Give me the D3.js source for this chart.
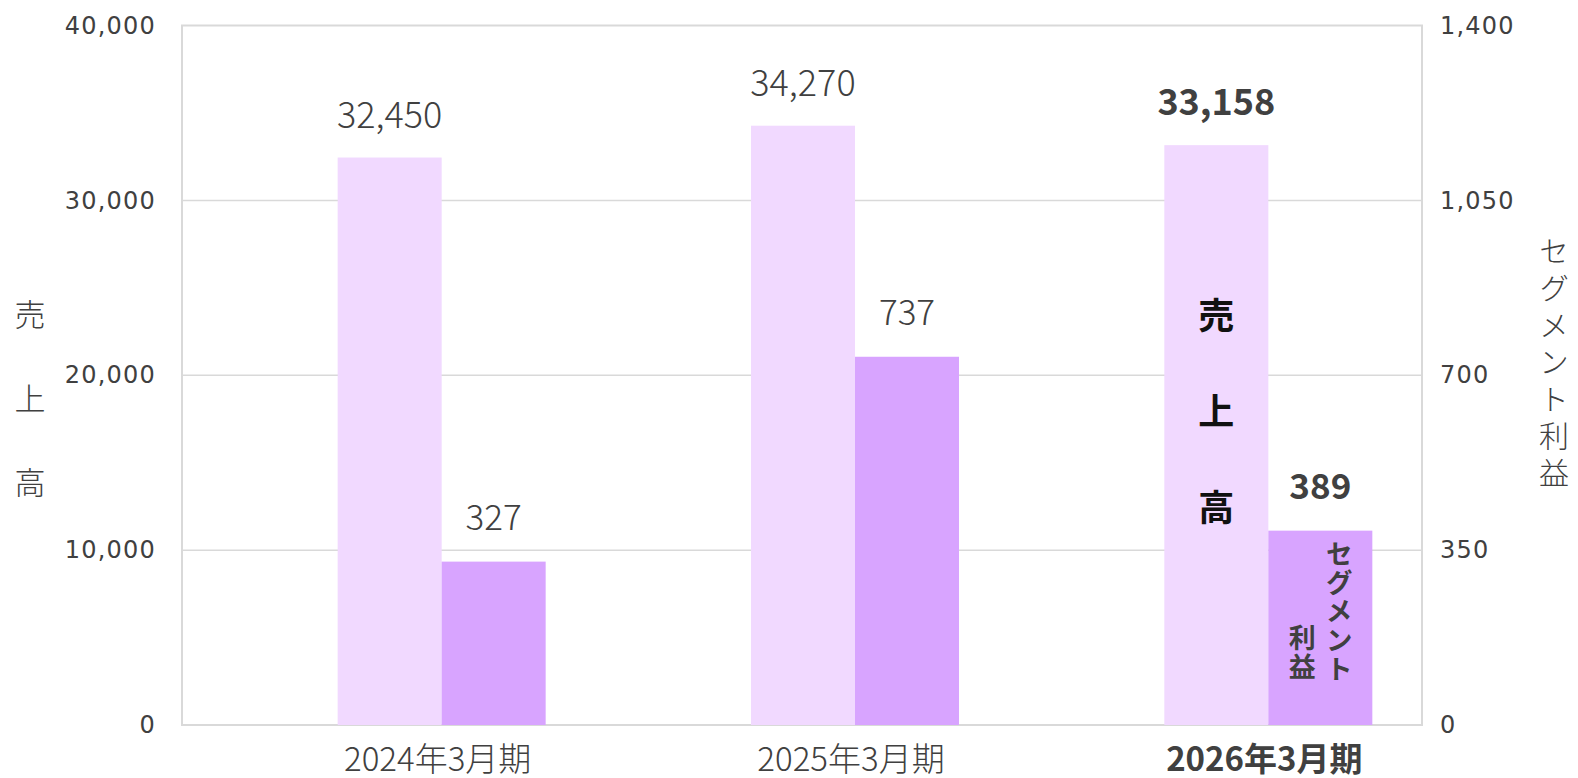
<!DOCTYPE html>
<html>
<head>
<meta charset="utf-8">
<script src="https://cdn.jsdelivr.net/npm/d3@7"></script>
<style>
  body { margin: 0; background: #fff; }
  text { font-family: "Noto Sans CJK JP", "Noto Sans", sans-serif; }
</style>
</head>
<body>
<div id="chart"></div>
<script>
// データ
const categories = ['2024年3月期', '2025年3月期', '2026年3月期'];
const sales = [32450, 34270, 33158];
const profit = [327, 737, 389];
const leftTicks = [0, 10000, 20000, 30000, 40000];
const rightTicks = [0, 350, 700, 1050, 1400];

const width = 1578, height = 778;
const plotL = 182, plotR = 1422, plotT = 25.5, plotB = 725;
const colorSales = '#f1d9ff', colorProfit = '#d8a4ff';
const textColor = '#404040';
const lastIdx = categories.length - 1;

let svg = d3.select('#chart')
  .append('svg')
  .attr('width', width)
  .attr('height', height);

// スケール
const xScale = d3.scaleBand().domain(categories).range([235, 1475]);
const xSub = d3.scaleBand().domain(['sales', 'profit']).range([-104, 104]);
const yLeft = d3.scaleLinear().domain([0, 40000]).range([plotB, plotT]);
const yRight = d3.scaleLinear().domain([0, 1400]).range([plotB, plotT]);
const center = c => xScale(c) + xScale.bandwidth() / 2;

// グリッド
svg.append('g')
  .selectAll('line')
  .data(leftTicks.slice(1, -1))
  .enter()
  .append('line')
  .attr('x1', plotL).attr('x2', plotR)
  .attr('y1', d => yLeft(d)).attr('y2', d => yLeft(d))
  .attr('stroke', '#d9d9d9')
  .attr('stroke-width', 1.5);

// 枠
svg.append('rect')
  .attr('x', plotL).attr('y', plotT)
  .attr('width', plotR - plotL).attr('height', plotB - plotT)
  .attr('fill', 'none')
  .attr('stroke', '#d9d9d9')
  .attr('stroke-width', 2);

// 左軸
const yAxisL = d3.axisLeft(yLeft).tickValues(leftTicks).tickSize(0).tickPadding(26)
  .tickFormat(d3.format(','));
svg.append('g').attr('class', 'y-axis-l')
  .attr('transform', `translate(${plotL},0)`)
  .call(yAxisL)
  .call(g => g.select('.domain').remove())
  .selectAll('text')
  .style('font-family', '"DejaVu Sans", sans-serif')
  .style('font-size', '24px')
  .style('letter-spacing', '1.2px')
  .attr('fill', textColor);

// 右軸
const yAxisR = d3.axisRight(yRight).tickValues(rightTicks).tickSize(0).tickPadding(18)
  .tickFormat(d3.format(','));
svg.append('g').attr('class', 'y-axis-r')
  .attr('transform', `translate(${plotR},0)`)
  .call(yAxisR)
  .call(g => g.select('.domain').remove())
  .selectAll('text')
  .style('font-family', '"DejaVu Sans", sans-serif')
  .style('font-size', '24px')
  .style('letter-spacing', '1.2px')
  .attr('fill', textColor);

// x軸ラベル
svg.append('g')
  .selectAll('text')
  .data(categories)
  .enter()
  .append('text')
  .attr('x', d => center(d) - 4)
  .attr('y', 771)
  .attr('text-anchor', 'middle')
  .style('font-size', '33px')
  .style('font-weight', (d, i) => i === lastIdx ? 700 : 300)
  .attr('fill', textColor)
  .text(d => d);

// 棒：売上高
svg.append('g')
  .selectAll('rect')
  .data(categories)
  .enter()
  .append('rect')
  .attr('x', d => center(d) + xSub('sales'))
  .attr('y', (d, i) => yLeft(sales[i]))
  .attr('width', xSub.bandwidth())
  .attr('height', (d, i) => plotB - yLeft(sales[i]))
  .attr('fill', colorSales);

// 棒：セグメント利益
svg.append('g')
  .selectAll('rect')
  .data(categories)
  .enter()
  .append('rect')
  .attr('x', d => center(d) + xSub('profit'))
  .attr('y', (d, i) => yRight(profit[i]))
  .attr('width', xSub.bandwidth())
  .attr('height', (d, i) => plotB - yRight(profit[i]))
  .attr('fill', colorProfit);

// 値ラベル
const fmt = d3.format(',');
svg.append('g')
  .selectAll('text')
  .data(categories)
  .enter()
  .append('text')
  .attr('x', d => center(d) + xSub('sales') + xSub.bandwidth() / 2)
  .attr('y', (d, i) => yLeft(sales[i]) - 30)
  .attr('text-anchor', 'middle')
  .style('font-size', '36px')
  .style('font-weight', (d, i) => i === lastIdx ? 700 : 300)
  .attr('fill', textColor)
  .text((d, i) => fmt(sales[i]));

svg.append('g')
  .selectAll('text')
  .data(categories)
  .enter()
  .append('text')
  .attr('x', d => center(d) + xSub('profit') + xSub.bandwidth() / 2)
  .attr('y', (d, i) => yRight(profit[i]) - 32)
  .attr('text-anchor', 'middle')
  .style('font-size', '35px')
  .style('font-weight', (d, i) => i === lastIdx ? 700 : 300)
  .attr('fill', textColor)
  .text((d, i) => fmt(profit[i]));

// 縦書きテキスト（1つのtextに縦書き指定）
function vText(str, x, yTop, size, spacing, weight, color) {
  svg.append('text')
    .attr('x', x)
    .attr('y', yTop)
    .style('writing-mode', 'vertical-rl')
    .style('glyph-orientation-vertical', 0)
    .style('font-size', size + 'px')
    .style('letter-spacing', spacing + 'px')
    .style('font-weight', weight)
    .attr('fill', color)
    .text(str);
}

// 軸タイトル
vText('売上高', 30, 299, 31, 53, 300, textColor);
vText('セグメント利益', 1554, 236, 30, 7, 300, textColor);

// 棒内ラベル（最新期）
const lastCat = categories[lastIdx];
const sx = center(lastCat) + xSub('sales') + xSub.bandwidth() / 2;
const px = center(lastCat) + xSub('profit') + xSub.bandwidth() / 2;
vText('売上高', sx, 297, 36, 60, 700, '#111');
vText('セグメント', px + 19, 540, 27, 1.8, 700, textColor);
vText('利益', px - 18, 624, 27, 1.8, 700, textColor);
</script>
</body>
</html>
